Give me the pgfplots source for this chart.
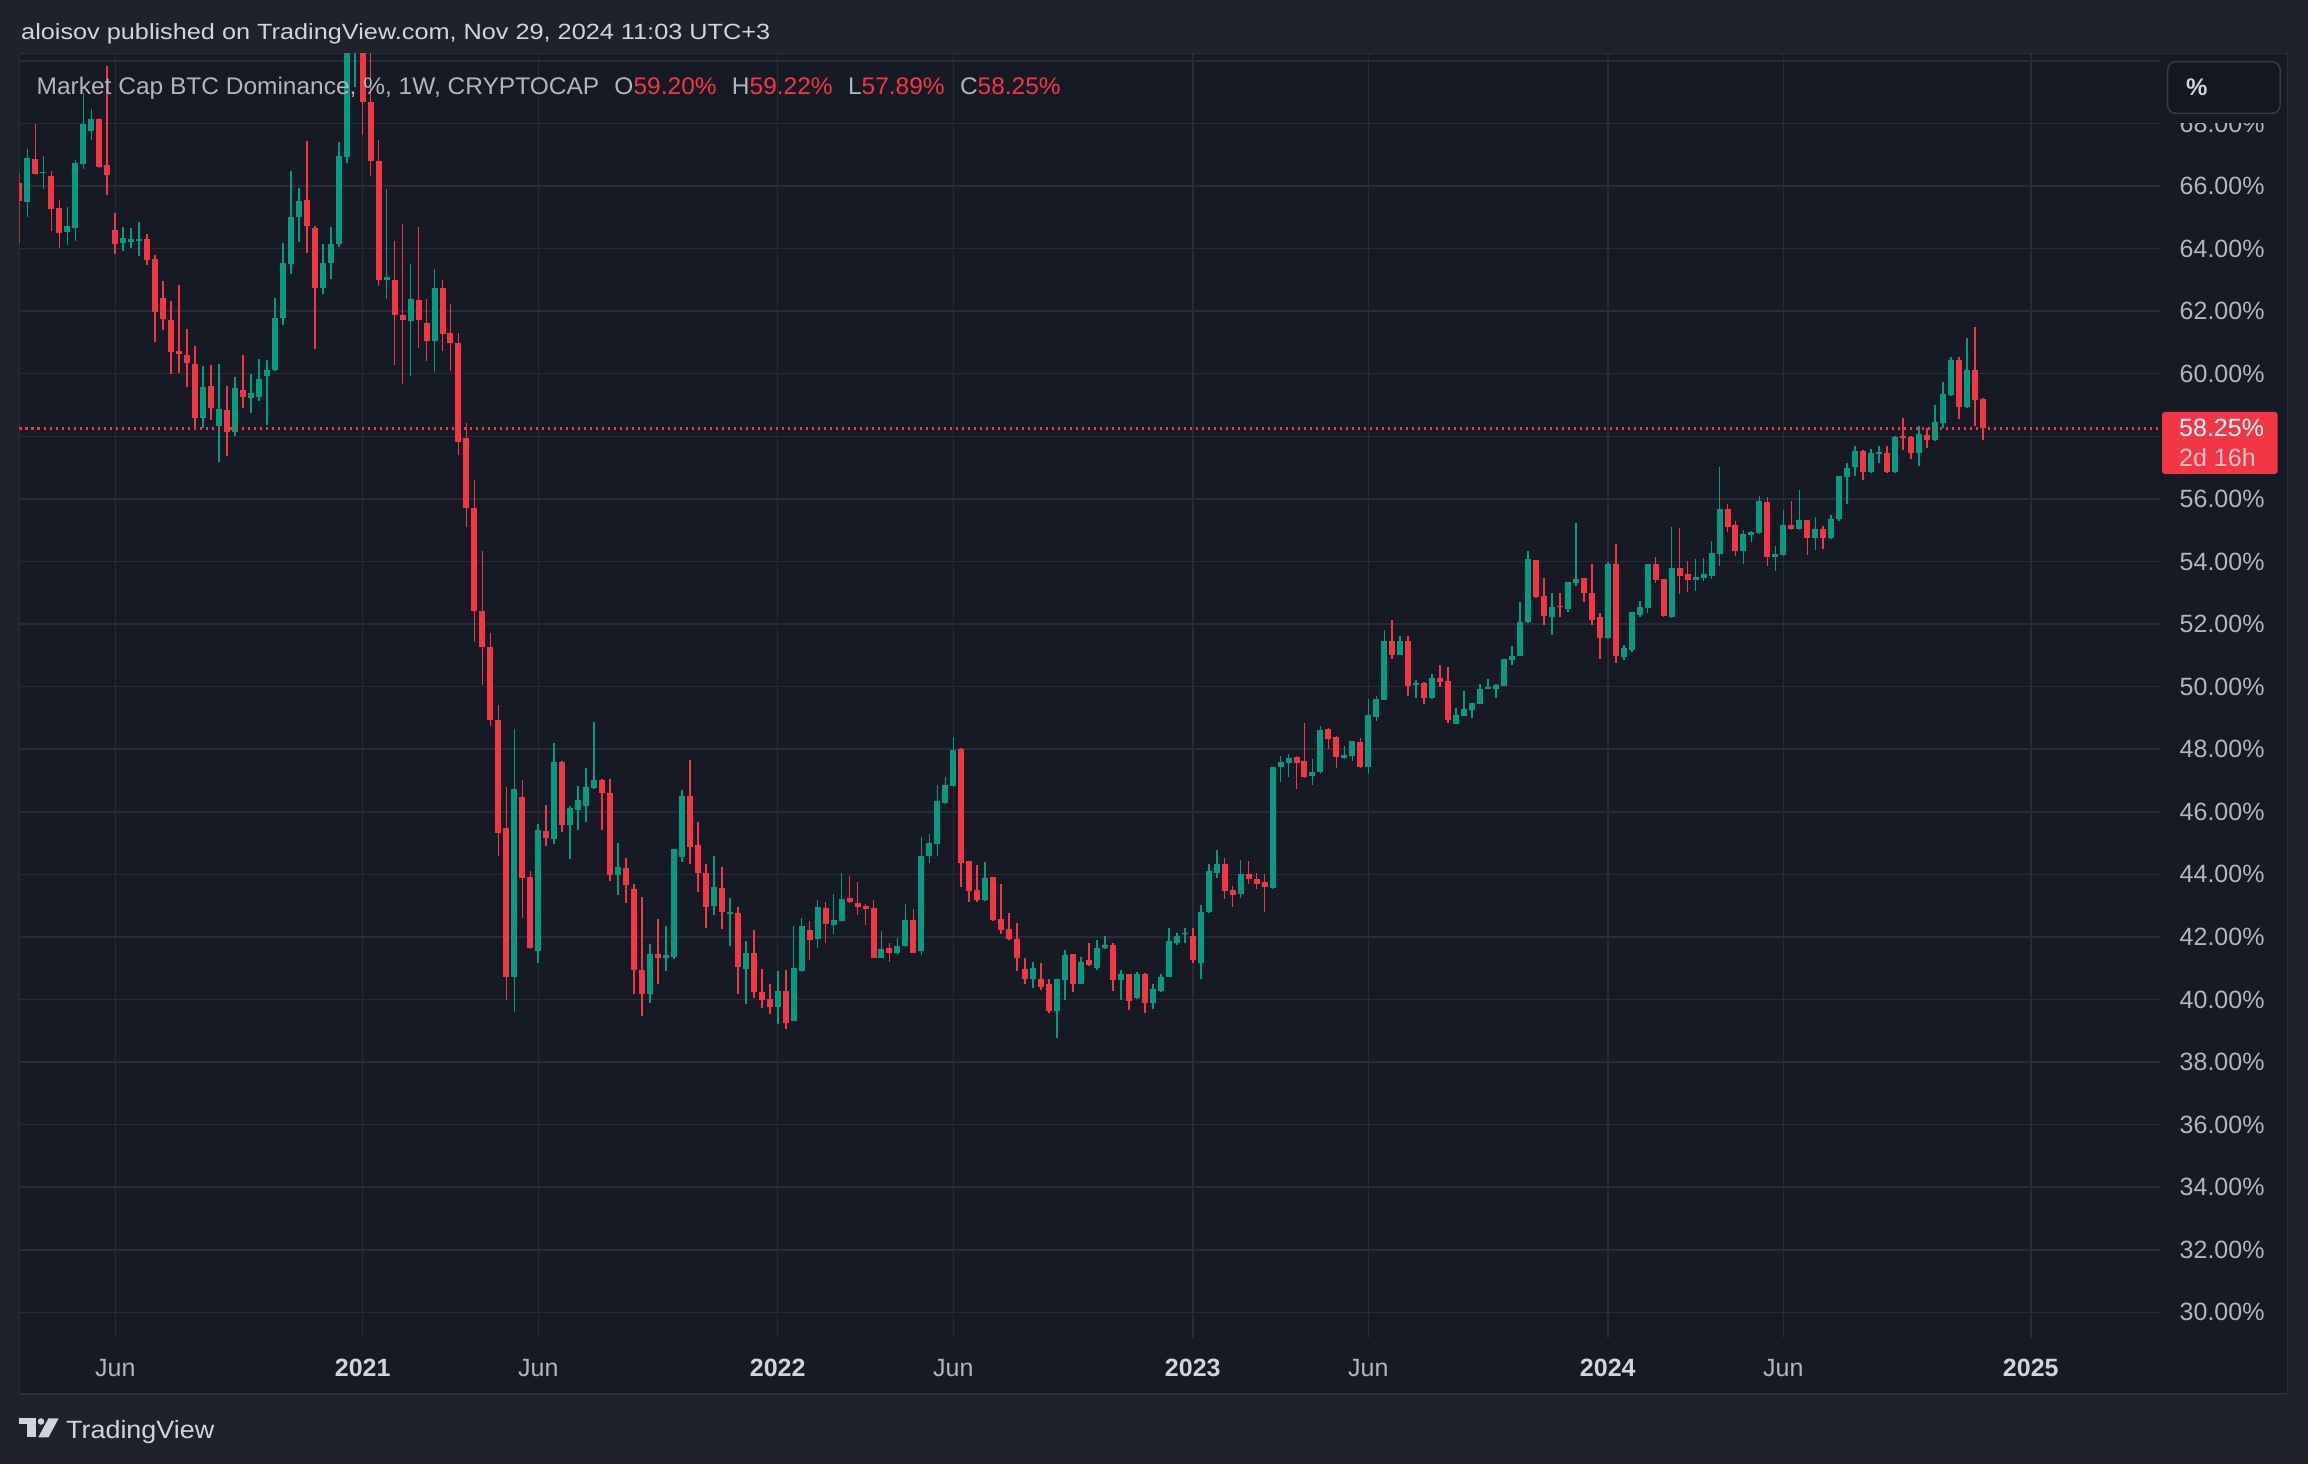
\documentclass[border=0pt]{standalone}
\usepackage{fontspec}
\setmainfont{Liberation Sans}
\usepackage{graphicx}
\usepackage{pgfplots}
\pgfplotsset{compat=1.18}
\usepackage{pgfplotstable}
\definecolor{outerbg}{HTML}{1E222D}
\definecolor{chartbg}{HTML}{161A25}
\definecolor{gridc}{HTML}{272B36}
\definecolor{borderc}{HTML}{2A2E39}
\definecolor{axtext}{HTML}{B2B5BE}
\definecolor{brtext}{HTML}{D1D4DC}
\definecolor{cgreen}{HTML}{089981}
\definecolor{cred}{HTML}{F23645}
\definecolor{boxfill}{HTML}{131722}
\definecolor{boxborder}{HTML}{363A45}

\pgfplotstableread{
t o h l c
-42 65.49 67.18 65.01 66.89
-40 66.40 66.95 65.91 66.44
-37 64.53 65.32 64.11 64.71
-36 64.66 66.82 64.24 66.73
-35 66.70 68.97 66.54 67.98
-34 67.76 68.46 67.48 68.13
-30 64.18 64.68 63.92 64.35
-29 64.21 64.65 64.02 64.32
-28 64.24 64.86 63.76 64.32
-20 58.60 60.25 58.28 59.58
-18 58.34 60.32 57.19 58.88
-16 58.13 59.90 58.02 59.55
-14 59.24 60.00 58.73 59.37
-13 59.27 60.48 59.13 59.83
-12 59.94 60.44 58.36 60.12
-11 60.12 62.42 60.10 61.79
-10 61.79 64.17 61.55 63.54
-9 63.50 66.49 63.18 65.02
-8 65.02 65.94 64.21 65.52
-5 62.74 64.15 62.54 63.54
-4 63.54 64.69 63.02 64.15
-3 64.15 67.40 64.05 66.97
-2 66.93 71.20 66.73 70.90
-1 70.90 73.40 69.15 72.60
3 63.00 65.92 62.40 63.08
6 61.67 63.52 59.92 62.40
9 61.06 63.34 60.04 62.74
19 40.73 48.65 39.61 46.73
22 41.54 45.61 41.15 45.41
24 45.14 48.20 44.97 47.59
26 45.59 46.18 44.48 46.12
27 46.06 46.82 45.41 46.38
28 46.18 47.40 45.67 46.79
29 46.76 48.87 46.74 47.02
32 43.97 45.00 43.33 44.23
36 40.16 41.76 39.90 41.44
38 41.34 42.34 40.90 41.41
39 41.37 44.80 41.28 44.80
40 44.55 46.70 44.39 46.50
44 42.98 44.58 42.69 43.59
46 42.73 43.23 41.70 42.79
48 40.96 41.86 39.84 41.50
52 39.77 40.90 39.23 40.28
54 39.32 42.34 39.30 40.99
55 40.90 42.62 40.88 42.34
57 41.92 43.17 41.66 42.95
59 42.37 43.36 42.08 42.53
60 42.50 44.04 42.48 43.20
65 41.34 42.18 41.32 41.60
67 41.50 41.95 41.41 41.70
68 41.70 43.04 41.68 42.53
70 41.54 45.19 41.41 44.58
71 44.58 45.29 44.36 45.00
72 44.96 46.86 44.58 46.34
73 46.28 47.11 46.26 46.86
74 46.82 48.39 46.80 47.98
78 43.17 44.39 43.15 43.88
84 40.67 41.21 40.38 41.02
87 39.64 40.66 38.78 40.64
88 40.61 41.57 39.97 41.41
90 40.51 41.37 40.49 41.21
92 41.02 41.89 40.94 41.66
93 41.64 42.02 41.61 41.73
95 40.62 40.93 39.98 40.83
97 40.04 40.89 40.02 40.83
99 39.88 40.51 39.69 40.32
100 40.28 40.83 40.25 40.73
101 40.73 42.30 40.71 41.86
102 41.82 42.14 41.73 42.02
103 42.08 42.27 41.79 42.11
105 41.18 43.01 40.64 42.79
106 42.79 44.32 42.75 44.10
107 44.04 44.77 43.87 44.32
110 43.36 44.45 43.23 44.00
114 43.55 47.43 43.53 47.43
115 47.43 47.79 46.95 47.59
116 47.56 47.85 47.11 47.72
119 47.14 47.69 46.86 47.27
120 47.27 48.75 47.21 48.62
123 47.72 48.11 47.70 47.82
124 47.79 48.27 47.62 48.27
126 47.43 49.61 47.21 49.10
127 49.04 49.71 48.91 49.61
128 49.58 51.82 49.56 51.47
130 51.02 51.63 51.00 51.47
132 50.06 50.22 49.64 50.13
134 49.64 50.41 49.61 50.29
137 48.81 49.32 48.79 49.10
138 49.07 49.87 49.05 49.29
139 49.26 49.48 49.00 49.48
140 49.45 50.09 49.43 49.93
141 49.93 50.25 49.91 50.00
142 49.93 50.09 49.64 50.06
143 50.03 50.89 50.01 50.89
144 50.86 51.31 50.70 50.99
145 50.99 52.69 50.97 52.08
146 52.05 54.33 52.03 54.07
149 52.24 52.98 51.66 52.56
151 52.47 53.33 52.37 53.33
152 53.30 55.22 53.20 53.43
156 51.54 53.97 51.52 53.91
158 50.96 51.34 50.86 51.22
159 51.18 52.37 51.12 52.37
160 52.30 52.75 52.24 52.56
161 52.50 53.91 52.34 53.91
164 52.21 55.09 52.19 53.78
167 53.40 54.07 53.07 53.49
168 53.46 54.10 53.39 53.59
169 53.55 54.64 53.43 54.26
170 54.23 57.02 53.84 55.67
173 54.32 55.00 53.91 54.87
174 54.84 54.97 54.61 54.93
175 54.90 56.09 54.88 55.93
177 54.13 54.48 53.68 54.23
178 54.20 55.64 54.18 55.16
180 55.03 56.28 55.01 55.32
182 54.74 55.41 54.36 55.03
184 54.74 55.48 54.72 55.35
185 55.35 56.73 55.29 56.73
186 56.70 57.14 55.83 56.98
187 57.02 57.69 56.73 57.53
189 56.86 57.59 56.82 57.47
190 57.43 57.69 57.15 57.50
192 56.86 58.01 56.84 57.98
195 57.47 58.33 57.05 58.07
197 57.88 59.00 57.86 58.46
198 58.43 59.74 58.27 59.36
199 59.32 60.54 59.30 60.45
201 58.94 61.15 58.92 60.13
}\upcandles

\pgfplotstableread{
t o h l c
-43 66.09 66.41 64.19 65.52
-41 66.86 67.98 66.34 66.38
-39 66.31 66.47 64.56 65.26
-38 65.29 65.54 64.02 64.50
-33 68.14 68.17 66.58 66.61
-32 66.66 69.83 65.71 66.35
-31 64.60 65.13 63.82 64.15
-27 64.31 64.48 63.47 63.63
-26 63.67 63.80 61.00 61.96
-25 62.42 62.95 61.39 61.74
-24 61.73 62.34 59.98 60.71
-23 60.74 62.84 60.01 60.62
-22 60.61 61.43 59.56 60.33
-21 60.32 60.90 58.22 58.60
-19 59.61 60.29 58.53 58.89
-17 58.84 59.61 57.38 58.15
-15 59.49 60.61 58.92 59.27
-7 65.56 67.44 63.85 64.71
-6 64.65 64.71 60.78 62.74
0 72.60 73.60 67.64 68.69
1 68.69 70.60 66.33 66.79
2 66.79 67.48 62.80 63.00
4 63.00 64.25 60.28 61.89
5 61.87 64.79 59.67 61.73
7 62.35 64.69 60.82 61.71
8 61.61 62.40 60.42 61.06
10 62.74 63.00 60.72 61.27
11 61.31 62.23 60.08 60.98
12 60.98 61.31 57.40 57.82
13 57.96 58.42 55.10 55.70
14 55.72 56.61 51.41 52.42
15 52.42 54.33 50.06 51.27
16 51.27 51.71 48.73 48.94
17 48.94 49.42 44.58 45.33
18 45.48 46.79 39.97 40.73
20 46.47 47.02 42.62 43.89
21 43.91 44.10 41.60 41.63
23 45.38 46.21 44.90 45.17
25 47.59 47.62 45.35 45.59
30 47.02 47.04 45.41 46.60
31 46.60 47.05 43.78 43.97
33 44.20 44.52 43.07 43.65
34 43.54 43.68 40.16 40.93
35 40.93 43.27 39.48 40.16
37 41.44 42.56 40.51 41.34
41 46.50 47.66 44.32 44.87
42 44.93 45.67 43.43 44.04
43 44.04 44.32 42.27 42.95
45 43.55 44.23 42.24 42.79
47 42.75 42.95 40.16 41.05
49 41.47 42.21 40.06 40.25
50 40.25 40.96 39.74 39.97
51 40.03 40.48 39.55 39.77
53 40.28 40.93 39.07 39.26
56 42.21 42.50 41.25 41.89
58 42.91 43.11 41.82 42.40
61 43.23 43.94 43.07 43.11
62 43.07 43.75 42.69 42.95
63 42.98 43.04 42.37 42.88
64 42.91 43.17 41.32 41.34
66 41.63 41.82 41.21 41.47
69 42.53 42.88 41.48 41.50
75 48.01 48.03 43.59 44.36
76 44.42 44.44 43.11 43.46
77 43.49 44.29 43.11 43.17
79 43.91 43.93 42.51 42.53
80 42.56 43.68 42.08 42.21
81 42.24 42.75 41.90 41.92
82 41.92 42.43 40.90 41.31
83 40.96 41.34 40.51 40.67
85 40.67 41.15 40.29 40.41
86 40.48 40.67 39.58 39.64
89 41.44 41.46 40.25 40.48
91 41.25 41.82 41.08 41.10
94 41.73 41.79 40.26 40.62
96 40.80 40.82 39.65 39.94
98 40.80 40.86 39.56 39.88
104 42.02 42.27 41.15 41.25
108 44.32 44.52 43.20 43.46
109 43.49 43.62 42.95 43.33
111 44.00 44.42 43.68 43.84
112 43.84 44.04 43.52 43.68
113 43.75 44.00 42.79 43.59
117 47.75 47.77 46.73 47.56
118 47.62 48.84 47.08 47.11
121 48.65 48.67 48.01 48.33
122 48.39 48.43 47.40 47.75
125 48.23 48.36 47.40 47.43
129 51.47 52.14 50.89 51.02
131 51.47 51.63 49.71 50.03
133 50.13 50.15 49.45 49.64
135 50.29 50.70 49.99 50.16
136 50.19 50.64 48.84 48.94
147 54.04 54.06 52.83 52.85
148 52.88 53.46 51.98 52.27
150 52.59 52.98 52.24 52.53
153 53.46 53.48 52.72 52.98
154 52.98 53.91 51.98 52.14
155 52.21 52.34 50.89 51.54
157 53.91 54.55 50.77 50.99
162 53.91 54.13 53.30 53.40
163 53.43 53.45 52.24 52.27
165 53.78 55.06 52.95 53.55
166 53.59 54.00 53.01 53.40
171 55.67 55.83 54.93 55.09
172 55.16 55.29 54.16 54.32
176 55.89 56.05 53.84 54.13
179 55.16 55.93 55.00 55.03
181 55.32 55.34 54.20 54.74
183 55.03 55.13 54.39 54.74
188 57.53 57.55 56.60 56.86
191 57.47 57.69 56.84 56.86
193 58.01 58.59 57.56 57.95
194 57.98 58.00 57.27 57.47
196 58.04 58.27 57.63 57.88
200 60.45 60.54 58.55 58.94
202 60.13 61.50 58.33 59.16
203 59.20 59.22 57.89 58.25
}\downcandles

\pgfplotsset{
  candle/.style n args={2}{only marks, mark=*, mark size=0pt,
    mark options={draw=none, fill=none}, forget plot,
    error bars/.cd, y dir=plus, y explicit, error mark=none,
    error bar style={draw=#1, line width=#2}},
}

\begin{document}
\begin{tikzpicture}[x=1pt,y=1pt]
\fill[outerbg] (0,0) rectangle (2308,1464);
\filldraw[fill=chartbg, draw=borderc, line width=1.5pt] (19.5,70) rectangle (2287.5,1410.5);
\begin{scope}[shift={(19.5,126)}]
\begin{axis}[
  scale only axis, width=2140pt, height=1284pt,
  xmin=-43, xmax=225.13, ymin=29.18, ymax=70.22,
  axis line style={draw=none},
  major tick length=0pt,
  tick style={draw=none},
  xmajorgrids, ymajorgrids,
  grid style={color=gridc, line width=1.5pt},
  xtick={-31,0,22,52,74,104,126,156,178,209},
  xticklabels={Jun,\textbf{\color{brtext}2021},Jun,\textbf{\color{brtext}2022},Jun,\textbf{\color{brtext}2023},Jun,\textbf{\color{brtext}2024},Jun,\textbf{\color{brtext}2025}},
  xticklabel style={anchor=base, inner sep=0pt, yshift=-39pt, color=axtext, font=\fontsize{25}{30}\selectfont},
  ytick={30,32,34,36,38,40,42,44,46,48,50,52,54,56,58,60,62,64,66,68,70},
  yticklabels={30.00\%,32.00\%,34.00\%,36.00\%,38.00\%,40.00\%,42.00\%,44.00\%,46.00\%,48.00\%,50.00\%,52.00\%,54.00\%,56.00\%,{},60.00\%,62.00\%,64.00\%,66.00\%,68.00\%,{}},
  yticklabel pos=right,
  yticklabel style={anchor=west, inner sep=0pt, xshift=20pt, color=axtext, font=\fontsize{25}{30}\selectfont},
]
% wicks
\addplot[candle={cgreen}{1.6pt}]
  table[x=t, y=l, y error plus expr={\thisrow{h}-\thisrow{l}}] {\upcandles};
\addplot[candle={cred}{1.6pt}]
  table[x=t, y=l, y error plus expr={\thisrow{h}-\thisrow{l}}] {\downcandles};
% bodies
\addplot[candle={cgreen}{6pt}]
  table[x=t, y expr={min(\thisrow{o},\thisrow{c})}, y error plus expr={max(abs(\thisrow{c}-\thisrow{o}),0.05)}] {\upcandles};
\addplot[candle={cred}{6pt}]
  table[x=t, y expr={min(\thisrow{o},\thisrow{c})}, y error plus expr={max(abs(\thisrow{c}-\thisrow{o}),0.05)}] {\downcandles};
% last price line
\addplot[cred, line width=2.2pt, dash pattern=on 2.7pt off 3.3pt, forget plot] coordinates {(-43,58.25) (225.13,58.25)};
\end{axis}
\end{scope}
% cover for clipped top label in price scale
\fill[chartbg] (2161,1341.3) rectangle (2286.7,1409.7);
% % box
\draw[fill=boxfill, draw=boxborder, line width=1.5pt, rounded corners=8pt] (2167.7,1350.7) rectangle (2280,1402.3);
\node[anchor=west, inner sep=0pt, text=brtext, font=\fontsize{24}{28}\selectfont\bfseries] at (2186,1376.3) {\%};
% last price label
\fill[cred, rounded corners=3pt] (2162,990) rectangle (2277.7,1052);
\node[anchor=west, inner sep=0pt, text=white, font=\fontsize{25}{30}\selectfont] at (2179,1035.7) {58.25\%};
\node[anchor=west, inner sep=0pt, text=white!72!cred, font=\fontsize{25}{30}\selectfont] at (2179,1006.7) {2d 16h};
% legend
\node[anchor=base west, inner sep=0pt] at (36.5,1369.7) {\resizebox{1024pt}{\height}{\fontsize{24}{28}\selectfont\color{axtext}Market Cap BTC Dominance, \%, 1W, CRYPTOCAP\hspace{15pt}O\textcolor{cred}{59.20\%}\hspace{15pt}H\textcolor{cred}{59.22\%}\hspace{15pt}L\textcolor{cred}{57.89\%}\hspace{15pt}C\textcolor{cred}{58.25\%}}};
% header
\node[anchor=base west, inner sep=0pt] at (21,1424.7) {\resizebox{749pt}{\height}{\fontsize{22}{26}\selectfont\color{brtext}aloisov published on TradingView.com, Nov 29, 2024 11:03 UTC+3}};
% logo
\fill[brtext] (19.4,39.7) rectangle (35.7,45.7);
\fill[brtext] (26.5,26.7) rectangle (35.7,45.7);
\fill[brtext] (41.0,42.5) circle (3.3);
\fill[brtext] (48.5,45.7) -- (58.7,45.7) -- (48.5,26.7) -- (38.3,26.7) -- cycle;
\node[anchor=base west, inner sep=0pt] at (66,25.7) {\resizebox{148pt}{\height}{\fontsize{25}{30}\selectfont\color{brtext}TradingView}};
\end{tikzpicture}
\end{document}
